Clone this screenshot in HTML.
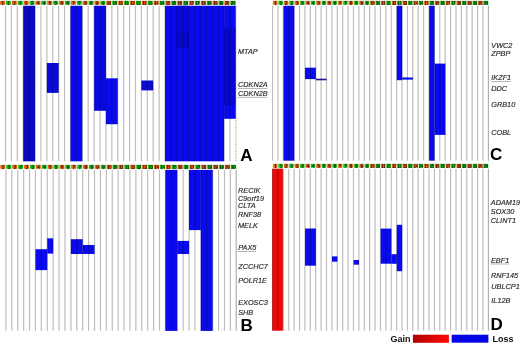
<!DOCTYPE html>
<html><head><meta charset="utf-8"><title>CNV heatmap</title>
<style>
html,body{margin:0;padding:0;background:#fff;}
body{width:520px;height:344px;overflow:hidden;position:relative;}
svg{position:absolute;left:0;top:0;display:block;}
text{font-family:"Liberation Sans",sans-serif;}
.g{font-style:italic;font-size:7.3px;fill:#2e2e2e;stroke:#2e2e2e;stroke-width:0.18px;}
.L{font-weight:bold;font-size:17px;fill:#000;}
.n{font-size:4.5px;font-weight:bold;text-anchor:middle;letter-spacing:-0.3px;}
</style></head><body>
<svg width="520" height="344" viewBox="0 0 520 344">
<rect x="0" y="0" width="520" height="344" fill="#fff"/>
<rect x="23.23" y="5.6" width="11.82" height="155.7" fill="#0808c0"/>
<rect x="46.86" y="63" width="11.81" height="29.9" fill="#0a0adc"/>
<rect x="70.49" y="5.6" width="11.81" height="155.7" fill="#0a0af2"/>
<rect x="94.12" y="5.6" width="11.81" height="105.2" fill="#0808e2"/>
<rect x="105.93" y="78.3" width="11.81" height="45.9" fill="#0a0af2"/>
<rect x="141.38" y="80.5" width="11.81" height="9.9" fill="#0a0acc"/>
<rect x="165.01" y="5.6" width="59.07" height="155.7" fill="#0a0af2"/>
<rect x="224.08" y="5.6" width="11.81" height="113.2" fill="#0a0af2"/>
<rect x="224.08" y="28.7" width="11.81" height="76.3" fill="#0707d2"/>
<rect x="176.82" y="5.6" width="11.81" height="42.4" fill="#0808de"/>
<rect x="176.82" y="33" width="11.81" height="14" fill="#0606cc"/>
<rect x="35.45" y="249.2" width="11.81" height="20.9" fill="#0a0af2"/>
<rect x="47.26" y="238.3" width="5.91" height="15.3" fill="#0a0af2"/>
<rect x="70.89" y="239.2" width="11.81" height="14.8" fill="#0a0af2"/>
<rect x="82.7" y="245" width="11.81" height="9" fill="#0a0af2"/>
<rect x="165.41" y="169.8" width="11.81" height="161.1" fill="#0a0af2"/>
<rect x="177.22" y="240.9" width="11.81" height="13.1" fill="#0a0af2"/>
<rect x="189.04" y="169.8" width="11.81" height="60.3" fill="#0a0af2"/>
<rect x="200.85" y="169.8" width="11.81" height="161.1" fill="#0a0af2"/>
<rect x="283.49" y="5.6" width="10.79" height="155.1" fill="#0a0af2"/>
<rect x="305.07" y="67.7" width="10.79" height="11.4" fill="#0a0af2"/>
<rect x="315.86" y="78.7" width="10.79" height="1.6" fill="#1a1aa0"/>
<rect x="396.78" y="5.6" width="5.39" height="74.6" fill="#0a0af2"/>
<rect x="402.18" y="77.5" width="10.79" height="2.1" fill="#0a0af2"/>
<rect x="429.15" y="5.6" width="5.39" height="155.1" fill="#0a0af2"/>
<rect x="434.55" y="63.6" width="10.79" height="71.3" fill="#0a0af2"/>
<rect x="305.07" y="228.5" width="10.79" height="37.2" fill="#0a0af2"/>
<rect x="332.04" y="256.4" width="5.4" height="5.3" fill="#0a0af2"/>
<rect x="353.62" y="260" width="5.39" height="4.7" fill="#0a0af2"/>
<rect x="380.6" y="228.6" width="10.79" height="35.1" fill="#0a0af2"/>
<rect x="391.39" y="254.2" width="5.39" height="9.6" fill="#0a0af2"/>
<rect x="396.78" y="224.8" width="5.39" height="46.4" fill="#0a0af2"/>
<rect x="272.2" y="168.5" width="10.7" height="162.2" fill="#f00808"/>
<g style="mix-blend-mode:multiply">
<rect x="4.91" y="5.6" width="1.2" height="155.7" fill="#bebebe"/>
<rect x="10.81" y="5.6" width="1.2" height="155.7" fill="#bebebe"/>
<rect x="16.72" y="5.6" width="1.2" height="155.7" fill="#bebebe"/>
<rect x="22.63" y="5.6" width="1.2" height="155.7" fill="#bebebe"/>
<rect x="28.54" y="5.6" width="1.2" height="155.7" fill="#bebebe"/>
<rect x="34.45" y="5.6" width="1.2" height="155.7" fill="#bebebe"/>
<rect x="40.35" y="5.6" width="1.2" height="155.7" fill="#bebebe"/>
<rect x="46.26" y="5.6" width="1.2" height="155.7" fill="#bebebe"/>
<rect x="52.17" y="5.6" width="1.2" height="155.7" fill="#bebebe"/>
<rect x="58.07" y="5.6" width="1.2" height="155.7" fill="#bebebe"/>
<rect x="63.98" y="5.6" width="1.2" height="155.7" fill="#bebebe"/>
<rect x="69.89" y="5.6" width="1.2" height="155.7" fill="#bebebe"/>
<rect x="75.8" y="5.6" width="1.2" height="155.7" fill="#bebebe"/>
<rect x="81.7" y="5.6" width="1.2" height="155.7" fill="#bebebe"/>
<rect x="87.61" y="5.6" width="1.2" height="155.7" fill="#bebebe"/>
<rect x="93.52" y="5.6" width="1.2" height="155.7" fill="#bebebe"/>
<rect x="99.43" y="5.6" width="1.2" height="155.7" fill="#bebebe"/>
<rect x="105.33" y="5.6" width="1.2" height="155.7" fill="#bebebe"/>
<rect x="111.24" y="5.6" width="1.2" height="155.7" fill="#bebebe"/>
<rect x="117.15" y="5.6" width="1.2" height="155.7" fill="#bebebe"/>
<rect x="123.06" y="5.6" width="1.2" height="155.7" fill="#bebebe"/>
<rect x="128.97" y="5.6" width="1.2" height="155.7" fill="#bebebe"/>
<rect x="134.87" y="5.6" width="1.2" height="155.7" fill="#bebebe"/>
<rect x="140.78" y="5.6" width="1.2" height="155.7" fill="#bebebe"/>
<rect x="146.69" y="5.6" width="1.2" height="155.7" fill="#bebebe"/>
<rect x="152.59" y="5.6" width="1.2" height="155.7" fill="#bebebe"/>
<rect x="158.5" y="5.6" width="1.2" height="155.7" fill="#bebebe"/>
<rect x="164.41" y="5.6" width="1.2" height="155.7" fill="#bebebe"/>
<rect x="170.32" y="5.6" width="1.2" height="155.7" fill="#bebebe"/>
<rect x="176.22" y="5.6" width="1.2" height="155.7" fill="#bebebe"/>
<rect x="182.13" y="5.6" width="1.2" height="155.7" fill="#bebebe"/>
<rect x="188.04" y="5.6" width="1.2" height="155.7" fill="#bebebe"/>
<rect x="193.95" y="5.6" width="1.2" height="155.7" fill="#bebebe"/>
<rect x="199.85" y="5.6" width="1.2" height="155.7" fill="#bebebe"/>
<rect x="205.76" y="5.6" width="1.2" height="155.7" fill="#bebebe"/>
<rect x="211.67" y="5.6" width="1.2" height="155.7" fill="#bebebe"/>
<rect x="217.58" y="5.6" width="1.2" height="155.7" fill="#bebebe"/>
<rect x="223.48" y="5.6" width="1.2" height="155.7" fill="#bebebe"/>
<rect x="229.39" y="5.6" width="1.2" height="155.7" fill="#bebebe"/>
<rect x="5.31" y="169.8" width="1.2" height="161.1" fill="#bebebe"/>
<rect x="11.21" y="169.8" width="1.2" height="161.1" fill="#bebebe"/>
<rect x="17.12" y="169.8" width="1.2" height="161.1" fill="#bebebe"/>
<rect x="23.03" y="169.8" width="1.2" height="161.1" fill="#bebebe"/>
<rect x="28.94" y="169.8" width="1.2" height="161.1" fill="#bebebe"/>
<rect x="34.84" y="169.8" width="1.2" height="161.1" fill="#bebebe"/>
<rect x="40.75" y="169.8" width="1.2" height="161.1" fill="#bebebe"/>
<rect x="46.66" y="169.8" width="1.2" height="161.1" fill="#bebebe"/>
<rect x="52.57" y="169.8" width="1.2" height="161.1" fill="#bebebe"/>
<rect x="58.47" y="169.8" width="1.2" height="161.1" fill="#bebebe"/>
<rect x="64.38" y="169.8" width="1.2" height="161.1" fill="#bebebe"/>
<rect x="70.29" y="169.8" width="1.2" height="161.1" fill="#bebebe"/>
<rect x="76.2" y="169.8" width="1.2" height="161.1" fill="#bebebe"/>
<rect x="82.11" y="169.8" width="1.2" height="161.1" fill="#bebebe"/>
<rect x="88.01" y="169.8" width="1.2" height="161.1" fill="#bebebe"/>
<rect x="93.92" y="169.8" width="1.2" height="161.1" fill="#bebebe"/>
<rect x="99.83" y="169.8" width="1.2" height="161.1" fill="#bebebe"/>
<rect x="105.73" y="169.8" width="1.2" height="161.1" fill="#bebebe"/>
<rect x="111.64" y="169.8" width="1.2" height="161.1" fill="#bebebe"/>
<rect x="117.55" y="169.8" width="1.2" height="161.1" fill="#bebebe"/>
<rect x="123.46" y="169.8" width="1.2" height="161.1" fill="#bebebe"/>
<rect x="129.37" y="169.8" width="1.2" height="161.1" fill="#bebebe"/>
<rect x="135.27" y="169.8" width="1.2" height="161.1" fill="#bebebe"/>
<rect x="141.18" y="169.8" width="1.2" height="161.1" fill="#bebebe"/>
<rect x="147.09" y="169.8" width="1.2" height="161.1" fill="#bebebe"/>
<rect x="153" y="169.8" width="1.2" height="161.1" fill="#bebebe"/>
<rect x="158.9" y="169.8" width="1.2" height="161.1" fill="#bebebe"/>
<rect x="164.81" y="169.8" width="1.2" height="161.1" fill="#bebebe"/>
<rect x="170.72" y="169.8" width="1.2" height="161.1" fill="#bebebe"/>
<rect x="176.62" y="169.8" width="1.2" height="161.1" fill="#bebebe"/>
<rect x="182.53" y="169.8" width="1.2" height="161.1" fill="#bebebe"/>
<rect x="188.44" y="169.8" width="1.2" height="161.1" fill="#bebebe"/>
<rect x="194.35" y="169.8" width="1.2" height="161.1" fill="#bebebe"/>
<rect x="200.25" y="169.8" width="1.2" height="161.1" fill="#bebebe"/>
<rect x="206.16" y="169.8" width="1.2" height="161.1" fill="#bebebe"/>
<rect x="212.07" y="169.8" width="1.2" height="161.1" fill="#bebebe"/>
<rect x="217.98" y="169.8" width="1.2" height="161.1" fill="#bebebe"/>
<rect x="223.88" y="169.8" width="1.2" height="161.1" fill="#bebebe"/>
<rect x="229.79" y="169.8" width="1.2" height="161.1" fill="#bebebe"/>
<rect x="271.95" y="5.6" width="1.2" height="155.1" fill="#bebebe"/>
<rect x="277.34" y="5.6" width="1.2" height="155.1" fill="#bebebe"/>
<rect x="282.74" y="5.6" width="1.2" height="155.1" fill="#bebebe"/>
<rect x="288.13" y="5.6" width="1.2" height="155.1" fill="#bebebe"/>
<rect x="293.53" y="5.6" width="1.2" height="155.1" fill="#bebebe"/>
<rect x="298.93" y="5.6" width="1.2" height="155.1" fill="#bebebe"/>
<rect x="304.32" y="5.6" width="1.2" height="155.1" fill="#bebebe"/>
<rect x="309.71" y="5.6" width="1.2" height="155.1" fill="#bebebe"/>
<rect x="315.11" y="5.6" width="1.2" height="155.1" fill="#bebebe"/>
<rect x="320.5" y="5.6" width="1.2" height="155.1" fill="#bebebe"/>
<rect x="325.9" y="5.6" width="1.2" height="155.1" fill="#bebebe"/>
<rect x="331.29" y="5.6" width="1.2" height="155.1" fill="#bebebe"/>
<rect x="336.69" y="5.6" width="1.2" height="155.1" fill="#bebebe"/>
<rect x="342.08" y="5.6" width="1.2" height="155.1" fill="#bebebe"/>
<rect x="347.48" y="5.6" width="1.2" height="155.1" fill="#bebebe"/>
<rect x="352.88" y="5.6" width="1.2" height="155.1" fill="#bebebe"/>
<rect x="358.27" y="5.6" width="1.2" height="155.1" fill="#bebebe"/>
<rect x="363.66" y="5.6" width="1.2" height="155.1" fill="#bebebe"/>
<rect x="369.06" y="5.6" width="1.2" height="155.1" fill="#bebebe"/>
<rect x="374.45" y="5.6" width="1.2" height="155.1" fill="#bebebe"/>
<rect x="379.85" y="5.6" width="1.2" height="155.1" fill="#bebebe"/>
<rect x="385.25" y="5.6" width="1.2" height="155.1" fill="#bebebe"/>
<rect x="390.64" y="5.6" width="1.2" height="155.1" fill="#bebebe"/>
<rect x="396.03" y="5.6" width="1.2" height="155.1" fill="#bebebe"/>
<rect x="401.43" y="5.6" width="1.2" height="155.1" fill="#bebebe"/>
<rect x="406.82" y="5.6" width="1.2" height="155.1" fill="#bebebe"/>
<rect x="412.22" y="5.6" width="1.2" height="155.1" fill="#bebebe"/>
<rect x="417.62" y="5.6" width="1.2" height="155.1" fill="#bebebe"/>
<rect x="423.01" y="5.6" width="1.2" height="155.1" fill="#bebebe"/>
<rect x="428.4" y="5.6" width="1.2" height="155.1" fill="#bebebe"/>
<rect x="433.8" y="5.6" width="1.2" height="155.1" fill="#bebebe"/>
<rect x="439.19" y="5.6" width="1.2" height="155.1" fill="#bebebe"/>
<rect x="444.59" y="5.6" width="1.2" height="155.1" fill="#bebebe"/>
<rect x="449.99" y="5.6" width="1.2" height="155.1" fill="#bebebe"/>
<rect x="455.38" y="5.6" width="1.2" height="155.1" fill="#bebebe"/>
<rect x="460.77" y="5.6" width="1.2" height="155.1" fill="#bebebe"/>
<rect x="466.17" y="5.6" width="1.2" height="155.1" fill="#bebebe"/>
<rect x="471.56" y="5.6" width="1.2" height="155.1" fill="#bebebe"/>
<rect x="476.96" y="5.6" width="1.2" height="155.1" fill="#bebebe"/>
<rect x="482.35" y="5.6" width="1.2" height="155.1" fill="#bebebe"/>
<rect x="271.95" y="168.5" width="1.2" height="162.2" fill="#bebebe"/>
<rect x="277.34" y="168.5" width="1.2" height="162.2" fill="#bebebe"/>
<rect x="282.74" y="168.5" width="1.2" height="162.2" fill="#bebebe"/>
<rect x="288.13" y="168.5" width="1.2" height="162.2" fill="#bebebe"/>
<rect x="293.53" y="168.5" width="1.2" height="162.2" fill="#bebebe"/>
<rect x="298.93" y="168.5" width="1.2" height="162.2" fill="#bebebe"/>
<rect x="304.32" y="168.5" width="1.2" height="162.2" fill="#bebebe"/>
<rect x="309.71" y="168.5" width="1.2" height="162.2" fill="#bebebe"/>
<rect x="315.11" y="168.5" width="1.2" height="162.2" fill="#bebebe"/>
<rect x="320.5" y="168.5" width="1.2" height="162.2" fill="#bebebe"/>
<rect x="325.9" y="168.5" width="1.2" height="162.2" fill="#bebebe"/>
<rect x="331.29" y="168.5" width="1.2" height="162.2" fill="#bebebe"/>
<rect x="336.69" y="168.5" width="1.2" height="162.2" fill="#bebebe"/>
<rect x="342.08" y="168.5" width="1.2" height="162.2" fill="#bebebe"/>
<rect x="347.48" y="168.5" width="1.2" height="162.2" fill="#bebebe"/>
<rect x="352.88" y="168.5" width="1.2" height="162.2" fill="#bebebe"/>
<rect x="358.27" y="168.5" width="1.2" height="162.2" fill="#bebebe"/>
<rect x="363.66" y="168.5" width="1.2" height="162.2" fill="#bebebe"/>
<rect x="369.06" y="168.5" width="1.2" height="162.2" fill="#bebebe"/>
<rect x="374.45" y="168.5" width="1.2" height="162.2" fill="#bebebe"/>
<rect x="379.85" y="168.5" width="1.2" height="162.2" fill="#bebebe"/>
<rect x="385.25" y="168.5" width="1.2" height="162.2" fill="#bebebe"/>
<rect x="390.64" y="168.5" width="1.2" height="162.2" fill="#bebebe"/>
<rect x="396.03" y="168.5" width="1.2" height="162.2" fill="#bebebe"/>
<rect x="401.43" y="168.5" width="1.2" height="162.2" fill="#bebebe"/>
<rect x="406.82" y="168.5" width="1.2" height="162.2" fill="#bebebe"/>
<rect x="412.22" y="168.5" width="1.2" height="162.2" fill="#bebebe"/>
<rect x="417.62" y="168.5" width="1.2" height="162.2" fill="#bebebe"/>
<rect x="423.01" y="168.5" width="1.2" height="162.2" fill="#bebebe"/>
<rect x="428.4" y="168.5" width="1.2" height="162.2" fill="#bebebe"/>
<rect x="433.8" y="168.5" width="1.2" height="162.2" fill="#bebebe"/>
<rect x="439.19" y="168.5" width="1.2" height="162.2" fill="#bebebe"/>
<rect x="444.59" y="168.5" width="1.2" height="162.2" fill="#bebebe"/>
<rect x="449.99" y="168.5" width="1.2" height="162.2" fill="#bebebe"/>
<rect x="455.38" y="168.5" width="1.2" height="162.2" fill="#bebebe"/>
<rect x="460.77" y="168.5" width="1.2" height="162.2" fill="#bebebe"/>
<rect x="466.17" y="168.5" width="1.2" height="162.2" fill="#bebebe"/>
<rect x="471.56" y="168.5" width="1.2" height="162.2" fill="#bebebe"/>
<rect x="476.96" y="168.5" width="1.2" height="162.2" fill="#bebebe"/>
<rect x="482.35" y="168.5" width="1.2" height="162.2" fill="#bebebe"/>
</g>
<line x1="235.9" y1="5.6" x2="235.9" y2="161.3" stroke="#909090" stroke-width="0.9" stroke-dasharray="1.2 1"/>
<rect x="235.6" y="169.8" width="1.2" height="161.1" fill="#b0b0b0"/>
<rect x="487.8" y="5.6" width="1.2" height="155.1" fill="#b0b0b0"/>
<rect x="487.8" y="168.5" width="1.2" height="162.2" fill="#b0b0b0"/>
<rect x="-0.4" y="0.6" width="5.91" height="4.4" fill="#dc620c" stroke="#fff" stroke-opacity="0.6" stroke-width="1.1"/>
<text class="n" x="2.55" y="4.55" fill="#400800">1</text>
<rect x="5.51" y="0.6" width="5.91" height="4.4" fill="#14b414" stroke="#fff" stroke-opacity="0.6" stroke-width="1.1"/>
<text class="n" x="8.46" y="4.55" fill="#003000">1</text>
<rect x="11.41" y="0.6" width="5.91" height="4.4" fill="#dc620c" stroke="#fff" stroke-opacity="0.6" stroke-width="1.1"/>
<text class="n" x="14.37" y="4.55" fill="#400800">2</text>
<rect x="17.32" y="0.6" width="5.91" height="4.4" fill="#14b414" stroke="#fff" stroke-opacity="0.6" stroke-width="1.1"/>
<text class="n" x="20.28" y="4.55" fill="#003000">2</text>
<rect x="23.23" y="0.6" width="5.91" height="4.4" fill="#dc620c" stroke="#fff" stroke-opacity="0.6" stroke-width="1.1"/>
<text class="n" x="26.18" y="4.55" fill="#400800">3</text>
<rect x="29.14" y="0.6" width="5.91" height="4.4" fill="#14b414" stroke="#fff" stroke-opacity="0.6" stroke-width="1.1"/>
<text class="n" x="32.09" y="4.55" fill="#003000">3</text>
<rect x="35.05" y="0.6" width="5.91" height="4.4" fill="#dc620c" stroke="#fff" stroke-opacity="0.6" stroke-width="1.1"/>
<text class="n" x="38" y="4.55" fill="#400800">4</text>
<rect x="40.95" y="0.6" width="5.91" height="4.4" fill="#14b414" stroke="#fff" stroke-opacity="0.6" stroke-width="1.1"/>
<text class="n" x="43.91" y="4.55" fill="#003000">4</text>
<rect x="46.86" y="0.6" width="5.91" height="4.4" fill="#dc620c" stroke="#fff" stroke-opacity="0.6" stroke-width="1.1"/>
<text class="n" x="49.81" y="4.55" fill="#400800">5</text>
<rect x="52.77" y="0.6" width="5.91" height="4.4" fill="#14b414" stroke="#fff" stroke-opacity="0.6" stroke-width="1.1"/>
<text class="n" x="55.72" y="4.55" fill="#003000">5</text>
<rect x="58.67" y="0.6" width="5.91" height="4.4" fill="#dc620c" stroke="#fff" stroke-opacity="0.6" stroke-width="1.1"/>
<text class="n" x="61.63" y="4.55" fill="#400800">6</text>
<rect x="64.58" y="0.6" width="5.91" height="4.4" fill="#14b414" stroke="#fff" stroke-opacity="0.6" stroke-width="1.1"/>
<text class="n" x="67.54" y="4.55" fill="#003000">6</text>
<rect x="70.49" y="0.6" width="5.91" height="4.4" fill="#dc620c" stroke="#fff" stroke-opacity="0.6" stroke-width="1.1"/>
<text class="n" x="73.44" y="4.55" fill="#400800">7</text>
<rect x="76.4" y="0.6" width="5.91" height="4.4" fill="#14b414" stroke="#fff" stroke-opacity="0.6" stroke-width="1.1"/>
<text class="n" x="79.35" y="4.55" fill="#003000">7</text>
<rect x="82.3" y="0.6" width="5.91" height="4.4" fill="#dc620c" stroke="#fff" stroke-opacity="0.6" stroke-width="1.1"/>
<text class="n" x="85.26" y="4.55" fill="#400800">8</text>
<rect x="88.21" y="0.6" width="5.91" height="4.4" fill="#14b414" stroke="#fff" stroke-opacity="0.6" stroke-width="1.1"/>
<text class="n" x="91.17" y="4.55" fill="#003000">8</text>
<rect x="94.12" y="0.6" width="5.91" height="4.4" fill="#dc620c" stroke="#fff" stroke-opacity="0.6" stroke-width="1.1"/>
<text class="n" x="97.07" y="4.55" fill="#400800">9</text>
<rect x="100.03" y="0.6" width="5.91" height="4.4" fill="#14b414" stroke="#fff" stroke-opacity="0.6" stroke-width="1.1"/>
<text class="n" x="102.98" y="4.55" fill="#003000">9</text>
<rect x="105.93" y="0.6" width="5.91" height="4.4" fill="#dc620c" stroke="#fff" stroke-opacity="0.6" stroke-width="1.1"/>
<text class="n" x="108.89" y="4.55" fill="#400800">10</text>
<rect x="111.84" y="0.6" width="5.91" height="4.4" fill="#14b414" stroke="#fff" stroke-opacity="0.6" stroke-width="1.1"/>
<text class="n" x="114.8" y="4.55" fill="#003000">10</text>
<rect x="117.75" y="0.6" width="5.91" height="4.4" fill="#dc620c" stroke="#fff" stroke-opacity="0.6" stroke-width="1.1"/>
<text class="n" x="120.7" y="4.55" fill="#400800">11</text>
<rect x="123.66" y="0.6" width="5.91" height="4.4" fill="#14b414" stroke="#fff" stroke-opacity="0.6" stroke-width="1.1"/>
<text class="n" x="126.61" y="4.55" fill="#003000">11</text>
<rect x="129.56" y="0.6" width="5.91" height="4.4" fill="#dc620c" stroke="#fff" stroke-opacity="0.6" stroke-width="1.1"/>
<text class="n" x="132.52" y="4.55" fill="#400800">12</text>
<rect x="135.47" y="0.6" width="5.91" height="4.4" fill="#14b414" stroke="#fff" stroke-opacity="0.6" stroke-width="1.1"/>
<text class="n" x="138.43" y="4.55" fill="#003000">12</text>
<rect x="141.38" y="0.6" width="5.91" height="4.4" fill="#dc620c" stroke="#fff" stroke-opacity="0.6" stroke-width="1.1"/>
<text class="n" x="144.33" y="4.55" fill="#400800">13</text>
<rect x="147.29" y="0.6" width="5.91" height="4.4" fill="#14b414" stroke="#fff" stroke-opacity="0.6" stroke-width="1.1"/>
<text class="n" x="150.24" y="4.55" fill="#003000">13</text>
<rect x="153.19" y="0.6" width="5.91" height="4.4" fill="#dc620c" stroke="#fff" stroke-opacity="0.6" stroke-width="1.1"/>
<text class="n" x="156.15" y="4.55" fill="#400800">14</text>
<rect x="159.1" y="0.6" width="5.91" height="4.4" fill="#14b414" stroke="#fff" stroke-opacity="0.6" stroke-width="1.1"/>
<text class="n" x="162.06" y="4.55" fill="#003000">14</text>
<rect x="165.01" y="0.6" width="5.91" height="4.4" fill="#dc620c" stroke="#fff" stroke-opacity="0.6" stroke-width="1.1"/>
<text class="n" x="167.96" y="4.55" fill="#400800">15</text>
<rect x="170.92" y="0.6" width="5.91" height="4.4" fill="#14b414" stroke="#fff" stroke-opacity="0.6" stroke-width="1.1"/>
<text class="n" x="173.87" y="4.55" fill="#003000">15</text>
<rect x="176.82" y="0.6" width="5.91" height="4.4" fill="#dc620c" stroke="#fff" stroke-opacity="0.6" stroke-width="1.1"/>
<text class="n" x="179.78" y="4.55" fill="#400800">16</text>
<rect x="182.73" y="0.6" width="5.91" height="4.4" fill="#14b414" stroke="#fff" stroke-opacity="0.6" stroke-width="1.1"/>
<text class="n" x="185.69" y="4.55" fill="#003000">16</text>
<rect x="188.64" y="0.6" width="5.91" height="4.4" fill="#dc620c" stroke="#fff" stroke-opacity="0.6" stroke-width="1.1"/>
<text class="n" x="191.59" y="4.55" fill="#400800">17</text>
<rect x="194.55" y="0.6" width="5.91" height="4.4" fill="#14b414" stroke="#fff" stroke-opacity="0.6" stroke-width="1.1"/>
<text class="n" x="197.5" y="4.55" fill="#003000">17</text>
<rect x="200.45" y="0.6" width="5.91" height="4.4" fill="#dc620c" stroke="#fff" stroke-opacity="0.6" stroke-width="1.1"/>
<text class="n" x="203.41" y="4.55" fill="#400800">18</text>
<rect x="206.36" y="0.6" width="5.91" height="4.4" fill="#14b414" stroke="#fff" stroke-opacity="0.6" stroke-width="1.1"/>
<text class="n" x="209.32" y="4.55" fill="#003000">18</text>
<rect x="212.27" y="0.6" width="5.91" height="4.4" fill="#dc620c" stroke="#fff" stroke-opacity="0.6" stroke-width="1.1"/>
<text class="n" x="215.22" y="4.55" fill="#400800">19</text>
<rect x="218.18" y="0.6" width="5.91" height="4.4" fill="#14b414" stroke="#fff" stroke-opacity="0.6" stroke-width="1.1"/>
<text class="n" x="221.13" y="4.55" fill="#003000">19</text>
<rect x="224.08" y="0.6" width="5.91" height="4.4" fill="#dc620c" stroke="#fff" stroke-opacity="0.6" stroke-width="1.1"/>
<text class="n" x="227.04" y="4.55" fill="#400800">20</text>
<rect x="229.99" y="0.6" width="5.91" height="4.4" fill="#14b414" stroke="#fff" stroke-opacity="0.6" stroke-width="1.1"/>
<text class="n" x="232.95" y="4.55" fill="#003000">20</text>
<rect x="0" y="164.6" width="5.91" height="4.5" fill="#dc620c" stroke="#fff" stroke-opacity="0.6" stroke-width="1.1"/>
<text class="n" x="2.95" y="168.65" fill="#400800">1</text>
<rect x="5.91" y="164.6" width="5.91" height="4.5" fill="#14b414" stroke="#fff" stroke-opacity="0.6" stroke-width="1.1"/>
<text class="n" x="8.86" y="168.65" fill="#003000">1</text>
<rect x="11.81" y="164.6" width="5.91" height="4.5" fill="#dc620c" stroke="#fff" stroke-opacity="0.6" stroke-width="1.1"/>
<text class="n" x="14.77" y="168.65" fill="#400800">2</text>
<rect x="17.72" y="164.6" width="5.91" height="4.5" fill="#14b414" stroke="#fff" stroke-opacity="0.6" stroke-width="1.1"/>
<text class="n" x="20.68" y="168.65" fill="#003000">2</text>
<rect x="23.63" y="164.6" width="5.91" height="4.5" fill="#dc620c" stroke="#fff" stroke-opacity="0.6" stroke-width="1.1"/>
<text class="n" x="26.58" y="168.65" fill="#400800">3</text>
<rect x="29.54" y="164.6" width="5.91" height="4.5" fill="#14b414" stroke="#fff" stroke-opacity="0.6" stroke-width="1.1"/>
<text class="n" x="32.49" y="168.65" fill="#003000">3</text>
<rect x="35.45" y="164.6" width="5.91" height="4.5" fill="#dc620c" stroke="#fff" stroke-opacity="0.6" stroke-width="1.1"/>
<text class="n" x="38.4" y="168.65" fill="#400800">4</text>
<rect x="41.35" y="164.6" width="5.91" height="4.5" fill="#14b414" stroke="#fff" stroke-opacity="0.6" stroke-width="1.1"/>
<text class="n" x="44.31" y="168.65" fill="#003000">4</text>
<rect x="47.26" y="164.6" width="5.91" height="4.5" fill="#dc620c" stroke="#fff" stroke-opacity="0.6" stroke-width="1.1"/>
<text class="n" x="50.21" y="168.65" fill="#400800">5</text>
<rect x="53.17" y="164.6" width="5.91" height="4.5" fill="#14b414" stroke="#fff" stroke-opacity="0.6" stroke-width="1.1"/>
<text class="n" x="56.12" y="168.65" fill="#003000">5</text>
<rect x="59.07" y="164.6" width="5.91" height="4.5" fill="#dc620c" stroke="#fff" stroke-opacity="0.6" stroke-width="1.1"/>
<text class="n" x="62.03" y="168.65" fill="#400800">6</text>
<rect x="64.98" y="164.6" width="5.91" height="4.5" fill="#14b414" stroke="#fff" stroke-opacity="0.6" stroke-width="1.1"/>
<text class="n" x="67.94" y="168.65" fill="#003000">6</text>
<rect x="70.89" y="164.6" width="5.91" height="4.5" fill="#dc620c" stroke="#fff" stroke-opacity="0.6" stroke-width="1.1"/>
<text class="n" x="73.84" y="168.65" fill="#400800">7</text>
<rect x="76.8" y="164.6" width="5.91" height="4.5" fill="#14b414" stroke="#fff" stroke-opacity="0.6" stroke-width="1.1"/>
<text class="n" x="79.75" y="168.65" fill="#003000">7</text>
<rect x="82.7" y="164.6" width="5.91" height="4.5" fill="#dc620c" stroke="#fff" stroke-opacity="0.6" stroke-width="1.1"/>
<text class="n" x="85.66" y="168.65" fill="#400800">8</text>
<rect x="88.61" y="164.6" width="5.91" height="4.5" fill="#14b414" stroke="#fff" stroke-opacity="0.6" stroke-width="1.1"/>
<text class="n" x="91.57" y="168.65" fill="#003000">8</text>
<rect x="94.52" y="164.6" width="5.91" height="4.5" fill="#dc620c" stroke="#fff" stroke-opacity="0.6" stroke-width="1.1"/>
<text class="n" x="97.47" y="168.65" fill="#400800">9</text>
<rect x="100.43" y="164.6" width="5.91" height="4.5" fill="#14b414" stroke="#fff" stroke-opacity="0.6" stroke-width="1.1"/>
<text class="n" x="103.38" y="168.65" fill="#003000">9</text>
<rect x="106.33" y="164.6" width="5.91" height="4.5" fill="#dc620c" stroke="#fff" stroke-opacity="0.6" stroke-width="1.1"/>
<text class="n" x="109.29" y="168.65" fill="#400800">10</text>
<rect x="112.24" y="164.6" width="5.91" height="4.5" fill="#14b414" stroke="#fff" stroke-opacity="0.6" stroke-width="1.1"/>
<text class="n" x="115.2" y="168.65" fill="#003000">10</text>
<rect x="118.15" y="164.6" width="5.91" height="4.5" fill="#dc620c" stroke="#fff" stroke-opacity="0.6" stroke-width="1.1"/>
<text class="n" x="121.1" y="168.65" fill="#400800">11</text>
<rect x="124.06" y="164.6" width="5.91" height="4.5" fill="#14b414" stroke="#fff" stroke-opacity="0.6" stroke-width="1.1"/>
<text class="n" x="127.01" y="168.65" fill="#003000">11</text>
<rect x="129.97" y="164.6" width="5.91" height="4.5" fill="#dc620c" stroke="#fff" stroke-opacity="0.6" stroke-width="1.1"/>
<text class="n" x="132.92" y="168.65" fill="#400800">12</text>
<rect x="135.87" y="164.6" width="5.91" height="4.5" fill="#14b414" stroke="#fff" stroke-opacity="0.6" stroke-width="1.1"/>
<text class="n" x="138.83" y="168.65" fill="#003000">12</text>
<rect x="141.78" y="164.6" width="5.91" height="4.5" fill="#dc620c" stroke="#fff" stroke-opacity="0.6" stroke-width="1.1"/>
<text class="n" x="144.73" y="168.65" fill="#400800">13</text>
<rect x="147.69" y="164.6" width="5.91" height="4.5" fill="#14b414" stroke="#fff" stroke-opacity="0.6" stroke-width="1.1"/>
<text class="n" x="150.64" y="168.65" fill="#003000">13</text>
<rect x="153.59" y="164.6" width="5.91" height="4.5" fill="#dc620c" stroke="#fff" stroke-opacity="0.6" stroke-width="1.1"/>
<text class="n" x="156.55" y="168.65" fill="#400800">14</text>
<rect x="159.5" y="164.6" width="5.91" height="4.5" fill="#14b414" stroke="#fff" stroke-opacity="0.6" stroke-width="1.1"/>
<text class="n" x="162.46" y="168.65" fill="#003000">14</text>
<rect x="165.41" y="164.6" width="5.91" height="4.5" fill="#dc620c" stroke="#fff" stroke-opacity="0.6" stroke-width="1.1"/>
<text class="n" x="168.36" y="168.65" fill="#400800">15</text>
<rect x="171.32" y="164.6" width="5.91" height="4.5" fill="#14b414" stroke="#fff" stroke-opacity="0.6" stroke-width="1.1"/>
<text class="n" x="174.27" y="168.65" fill="#003000">15</text>
<rect x="177.22" y="164.6" width="5.91" height="4.5" fill="#dc620c" stroke="#fff" stroke-opacity="0.6" stroke-width="1.1"/>
<text class="n" x="180.18" y="168.65" fill="#400800">16</text>
<rect x="183.13" y="164.6" width="5.91" height="4.5" fill="#14b414" stroke="#fff" stroke-opacity="0.6" stroke-width="1.1"/>
<text class="n" x="186.09" y="168.65" fill="#003000">16</text>
<rect x="189.04" y="164.6" width="5.91" height="4.5" fill="#dc620c" stroke="#fff" stroke-opacity="0.6" stroke-width="1.1"/>
<text class="n" x="191.99" y="168.65" fill="#400800">17</text>
<rect x="194.95" y="164.6" width="5.91" height="4.5" fill="#14b414" stroke="#fff" stroke-opacity="0.6" stroke-width="1.1"/>
<text class="n" x="197.9" y="168.65" fill="#003000">17</text>
<rect x="200.85" y="164.6" width="5.91" height="4.5" fill="#dc620c" stroke="#fff" stroke-opacity="0.6" stroke-width="1.1"/>
<text class="n" x="203.81" y="168.65" fill="#400800">18</text>
<rect x="206.76" y="164.6" width="5.91" height="4.5" fill="#14b414" stroke="#fff" stroke-opacity="0.6" stroke-width="1.1"/>
<text class="n" x="209.72" y="168.65" fill="#003000">18</text>
<rect x="212.67" y="164.6" width="5.91" height="4.5" fill="#dc620c" stroke="#fff" stroke-opacity="0.6" stroke-width="1.1"/>
<text class="n" x="215.62" y="168.65" fill="#400800">19</text>
<rect x="218.58" y="164.6" width="5.91" height="4.5" fill="#14b414" stroke="#fff" stroke-opacity="0.6" stroke-width="1.1"/>
<text class="n" x="221.53" y="168.65" fill="#003000">19</text>
<rect x="224.48" y="164.6" width="5.91" height="4.5" fill="#dc620c" stroke="#fff" stroke-opacity="0.6" stroke-width="1.1"/>
<text class="n" x="227.44" y="168.65" fill="#400800">20</text>
<rect x="230.39" y="164.6" width="5.91" height="4.5" fill="#14b414" stroke="#fff" stroke-opacity="0.6" stroke-width="1.1"/>
<text class="n" x="233.35" y="168.65" fill="#003000">20</text>
<rect x="272.7" y="0.6" width="5.39" height="4.4" fill="#dc620c" stroke="#fff" stroke-opacity="0.6" stroke-width="1.1"/>
<text class="n" x="275.4" y="4.55" fill="#400800">1</text>
<rect x="278.09" y="0.6" width="5.39" height="4.4" fill="#14b414" stroke="#fff" stroke-opacity="0.6" stroke-width="1.1"/>
<text class="n" x="280.79" y="4.55" fill="#003000">1</text>
<rect x="283.49" y="0.6" width="5.39" height="4.4" fill="#dc620c" stroke="#fff" stroke-opacity="0.6" stroke-width="1.1"/>
<text class="n" x="286.19" y="4.55" fill="#400800">2</text>
<rect x="288.88" y="0.6" width="5.39" height="4.4" fill="#14b414" stroke="#fff" stroke-opacity="0.6" stroke-width="1.1"/>
<text class="n" x="291.58" y="4.55" fill="#003000">2</text>
<rect x="294.28" y="0.6" width="5.39" height="4.4" fill="#dc620c" stroke="#fff" stroke-opacity="0.6" stroke-width="1.1"/>
<text class="n" x="296.98" y="4.55" fill="#400800">3</text>
<rect x="299.68" y="0.6" width="5.39" height="4.4" fill="#14b414" stroke="#fff" stroke-opacity="0.6" stroke-width="1.1"/>
<text class="n" x="302.37" y="4.55" fill="#003000">3</text>
<rect x="305.07" y="0.6" width="5.39" height="4.4" fill="#dc620c" stroke="#fff" stroke-opacity="0.6" stroke-width="1.1"/>
<text class="n" x="307.77" y="4.55" fill="#400800">4</text>
<rect x="310.46" y="0.6" width="5.39" height="4.4" fill="#14b414" stroke="#fff" stroke-opacity="0.6" stroke-width="1.1"/>
<text class="n" x="313.16" y="4.55" fill="#003000">4</text>
<rect x="315.86" y="0.6" width="5.39" height="4.4" fill="#dc620c" stroke="#fff" stroke-opacity="0.6" stroke-width="1.1"/>
<text class="n" x="318.56" y="4.55" fill="#400800">5</text>
<rect x="321.25" y="0.6" width="5.39" height="4.4" fill="#14b414" stroke="#fff" stroke-opacity="0.6" stroke-width="1.1"/>
<text class="n" x="323.95" y="4.55" fill="#003000">5</text>
<rect x="326.65" y="0.6" width="5.39" height="4.4" fill="#dc620c" stroke="#fff" stroke-opacity="0.6" stroke-width="1.1"/>
<text class="n" x="329.35" y="4.55" fill="#400800">6</text>
<rect x="332.04" y="0.6" width="5.39" height="4.4" fill="#14b414" stroke="#fff" stroke-opacity="0.6" stroke-width="1.1"/>
<text class="n" x="334.74" y="4.55" fill="#003000">6</text>
<rect x="337.44" y="0.6" width="5.39" height="4.4" fill="#dc620c" stroke="#fff" stroke-opacity="0.6" stroke-width="1.1"/>
<text class="n" x="340.14" y="4.55" fill="#400800">7</text>
<rect x="342.83" y="0.6" width="5.39" height="4.4" fill="#14b414" stroke="#fff" stroke-opacity="0.6" stroke-width="1.1"/>
<text class="n" x="345.53" y="4.55" fill="#003000">7</text>
<rect x="348.23" y="0.6" width="5.39" height="4.4" fill="#dc620c" stroke="#fff" stroke-opacity="0.6" stroke-width="1.1"/>
<text class="n" x="350.93" y="4.55" fill="#400800">8</text>
<rect x="353.62" y="0.6" width="5.39" height="4.4" fill="#14b414" stroke="#fff" stroke-opacity="0.6" stroke-width="1.1"/>
<text class="n" x="356.32" y="4.55" fill="#003000">8</text>
<rect x="359.02" y="0.6" width="5.39" height="4.4" fill="#dc620c" stroke="#fff" stroke-opacity="0.6" stroke-width="1.1"/>
<text class="n" x="361.72" y="4.55" fill="#400800">9</text>
<rect x="364.41" y="0.6" width="5.39" height="4.4" fill="#14b414" stroke="#fff" stroke-opacity="0.6" stroke-width="1.1"/>
<text class="n" x="367.11" y="4.55" fill="#003000">9</text>
<rect x="369.81" y="0.6" width="5.39" height="4.4" fill="#dc620c" stroke="#fff" stroke-opacity="0.6" stroke-width="1.1"/>
<text class="n" x="372.51" y="4.55" fill="#400800">10</text>
<rect x="375.2" y="0.6" width="5.39" height="4.4" fill="#14b414" stroke="#fff" stroke-opacity="0.6" stroke-width="1.1"/>
<text class="n" x="377.9" y="4.55" fill="#003000">10</text>
<rect x="380.6" y="0.6" width="5.39" height="4.4" fill="#dc620c" stroke="#fff" stroke-opacity="0.6" stroke-width="1.1"/>
<text class="n" x="383.3" y="4.55" fill="#400800">11</text>
<rect x="386" y="0.6" width="5.39" height="4.4" fill="#14b414" stroke="#fff" stroke-opacity="0.6" stroke-width="1.1"/>
<text class="n" x="388.69" y="4.55" fill="#003000">11</text>
<rect x="391.39" y="0.6" width="5.39" height="4.4" fill="#dc620c" stroke="#fff" stroke-opacity="0.6" stroke-width="1.1"/>
<text class="n" x="394.09" y="4.55" fill="#400800">12</text>
<rect x="396.78" y="0.6" width="5.39" height="4.4" fill="#14b414" stroke="#fff" stroke-opacity="0.6" stroke-width="1.1"/>
<text class="n" x="399.48" y="4.55" fill="#003000">12</text>
<rect x="402.18" y="0.6" width="5.39" height="4.4" fill="#dc620c" stroke="#fff" stroke-opacity="0.6" stroke-width="1.1"/>
<text class="n" x="404.88" y="4.55" fill="#400800">13</text>
<rect x="407.57" y="0.6" width="5.39" height="4.4" fill="#14b414" stroke="#fff" stroke-opacity="0.6" stroke-width="1.1"/>
<text class="n" x="410.27" y="4.55" fill="#003000">13</text>
<rect x="412.97" y="0.6" width="5.39" height="4.4" fill="#dc620c" stroke="#fff" stroke-opacity="0.6" stroke-width="1.1"/>
<text class="n" x="415.67" y="4.55" fill="#400800">14</text>
<rect x="418.37" y="0.6" width="5.39" height="4.4" fill="#14b414" stroke="#fff" stroke-opacity="0.6" stroke-width="1.1"/>
<text class="n" x="421.06" y="4.55" fill="#003000">14</text>
<rect x="423.76" y="0.6" width="5.39" height="4.4" fill="#dc620c" stroke="#fff" stroke-opacity="0.6" stroke-width="1.1"/>
<text class="n" x="426.46" y="4.55" fill="#400800">15</text>
<rect x="429.15" y="0.6" width="5.39" height="4.4" fill="#14b414" stroke="#fff" stroke-opacity="0.6" stroke-width="1.1"/>
<text class="n" x="431.85" y="4.55" fill="#003000">15</text>
<rect x="434.55" y="0.6" width="5.39" height="4.4" fill="#dc620c" stroke="#fff" stroke-opacity="0.6" stroke-width="1.1"/>
<text class="n" x="437.25" y="4.55" fill="#400800">16</text>
<rect x="439.94" y="0.6" width="5.39" height="4.4" fill="#14b414" stroke="#fff" stroke-opacity="0.6" stroke-width="1.1"/>
<text class="n" x="442.64" y="4.55" fill="#003000">16</text>
<rect x="445.34" y="0.6" width="5.39" height="4.4" fill="#dc620c" stroke="#fff" stroke-opacity="0.6" stroke-width="1.1"/>
<text class="n" x="448.04" y="4.55" fill="#400800">17</text>
<rect x="450.74" y="0.6" width="5.39" height="4.4" fill="#14b414" stroke="#fff" stroke-opacity="0.6" stroke-width="1.1"/>
<text class="n" x="453.43" y="4.55" fill="#003000">17</text>
<rect x="456.13" y="0.6" width="5.39" height="4.4" fill="#dc620c" stroke="#fff" stroke-opacity="0.6" stroke-width="1.1"/>
<text class="n" x="458.83" y="4.55" fill="#400800">18</text>
<rect x="461.52" y="0.6" width="5.39" height="4.4" fill="#14b414" stroke="#fff" stroke-opacity="0.6" stroke-width="1.1"/>
<text class="n" x="464.22" y="4.55" fill="#003000">18</text>
<rect x="466.92" y="0.6" width="5.39" height="4.4" fill="#dc620c" stroke="#fff" stroke-opacity="0.6" stroke-width="1.1"/>
<text class="n" x="469.62" y="4.55" fill="#400800">19</text>
<rect x="472.31" y="0.6" width="5.39" height="4.4" fill="#14b414" stroke="#fff" stroke-opacity="0.6" stroke-width="1.1"/>
<text class="n" x="475.01" y="4.55" fill="#003000">19</text>
<rect x="477.71" y="0.6" width="5.39" height="4.4" fill="#dc620c" stroke="#fff" stroke-opacity="0.6" stroke-width="1.1"/>
<text class="n" x="480.41" y="4.55" fill="#400800">20</text>
<rect x="483.1" y="0.6" width="5.39" height="4.4" fill="#14b414" stroke="#fff" stroke-opacity="0.6" stroke-width="1.1"/>
<text class="n" x="485.8" y="4.55" fill="#003000">20</text>
<rect x="272.7" y="163.6" width="5.39" height="4.4" fill="#dc620c" stroke="#fff" stroke-opacity="0.6" stroke-width="1.1"/>
<text class="n" x="275.4" y="167.55" fill="#400800">1</text>
<rect x="278.09" y="163.6" width="5.39" height="4.4" fill="#14b414" stroke="#fff" stroke-opacity="0.6" stroke-width="1.1"/>
<text class="n" x="280.79" y="167.55" fill="#003000">1</text>
<rect x="283.49" y="163.6" width="5.39" height="4.4" fill="#dc620c" stroke="#fff" stroke-opacity="0.6" stroke-width="1.1"/>
<text class="n" x="286.19" y="167.55" fill="#400800">2</text>
<rect x="288.88" y="163.6" width="5.39" height="4.4" fill="#14b414" stroke="#fff" stroke-opacity="0.6" stroke-width="1.1"/>
<text class="n" x="291.58" y="167.55" fill="#003000">2</text>
<rect x="294.28" y="163.6" width="5.39" height="4.4" fill="#dc620c" stroke="#fff" stroke-opacity="0.6" stroke-width="1.1"/>
<text class="n" x="296.98" y="167.55" fill="#400800">3</text>
<rect x="299.68" y="163.6" width="5.39" height="4.4" fill="#14b414" stroke="#fff" stroke-opacity="0.6" stroke-width="1.1"/>
<text class="n" x="302.37" y="167.55" fill="#003000">3</text>
<rect x="305.07" y="163.6" width="5.39" height="4.4" fill="#dc620c" stroke="#fff" stroke-opacity="0.6" stroke-width="1.1"/>
<text class="n" x="307.77" y="167.55" fill="#400800">4</text>
<rect x="310.46" y="163.6" width="5.39" height="4.4" fill="#14b414" stroke="#fff" stroke-opacity="0.6" stroke-width="1.1"/>
<text class="n" x="313.16" y="167.55" fill="#003000">4</text>
<rect x="315.86" y="163.6" width="5.39" height="4.4" fill="#dc620c" stroke="#fff" stroke-opacity="0.6" stroke-width="1.1"/>
<text class="n" x="318.56" y="167.55" fill="#400800">5</text>
<rect x="321.25" y="163.6" width="5.39" height="4.4" fill="#14b414" stroke="#fff" stroke-opacity="0.6" stroke-width="1.1"/>
<text class="n" x="323.95" y="167.55" fill="#003000">5</text>
<rect x="326.65" y="163.6" width="5.39" height="4.4" fill="#dc620c" stroke="#fff" stroke-opacity="0.6" stroke-width="1.1"/>
<text class="n" x="329.35" y="167.55" fill="#400800">6</text>
<rect x="332.04" y="163.6" width="5.39" height="4.4" fill="#14b414" stroke="#fff" stroke-opacity="0.6" stroke-width="1.1"/>
<text class="n" x="334.74" y="167.55" fill="#003000">6</text>
<rect x="337.44" y="163.6" width="5.39" height="4.4" fill="#dc620c" stroke="#fff" stroke-opacity="0.6" stroke-width="1.1"/>
<text class="n" x="340.14" y="167.55" fill="#400800">7</text>
<rect x="342.83" y="163.6" width="5.39" height="4.4" fill="#14b414" stroke="#fff" stroke-opacity="0.6" stroke-width="1.1"/>
<text class="n" x="345.53" y="167.55" fill="#003000">7</text>
<rect x="348.23" y="163.6" width="5.39" height="4.4" fill="#dc620c" stroke="#fff" stroke-opacity="0.6" stroke-width="1.1"/>
<text class="n" x="350.93" y="167.55" fill="#400800">8</text>
<rect x="353.62" y="163.6" width="5.39" height="4.4" fill="#14b414" stroke="#fff" stroke-opacity="0.6" stroke-width="1.1"/>
<text class="n" x="356.32" y="167.55" fill="#003000">8</text>
<rect x="359.02" y="163.6" width="5.39" height="4.4" fill="#dc620c" stroke="#fff" stroke-opacity="0.6" stroke-width="1.1"/>
<text class="n" x="361.72" y="167.55" fill="#400800">9</text>
<rect x="364.41" y="163.6" width="5.39" height="4.4" fill="#14b414" stroke="#fff" stroke-opacity="0.6" stroke-width="1.1"/>
<text class="n" x="367.11" y="167.55" fill="#003000">9</text>
<rect x="369.81" y="163.6" width="5.39" height="4.4" fill="#dc620c" stroke="#fff" stroke-opacity="0.6" stroke-width="1.1"/>
<text class="n" x="372.51" y="167.55" fill="#400800">10</text>
<rect x="375.2" y="163.6" width="5.39" height="4.4" fill="#14b414" stroke="#fff" stroke-opacity="0.6" stroke-width="1.1"/>
<text class="n" x="377.9" y="167.55" fill="#003000">10</text>
<rect x="380.6" y="163.6" width="5.39" height="4.4" fill="#dc620c" stroke="#fff" stroke-opacity="0.6" stroke-width="1.1"/>
<text class="n" x="383.3" y="167.55" fill="#400800">11</text>
<rect x="386" y="163.6" width="5.39" height="4.4" fill="#14b414" stroke="#fff" stroke-opacity="0.6" stroke-width="1.1"/>
<text class="n" x="388.69" y="167.55" fill="#003000">11</text>
<rect x="391.39" y="163.6" width="5.39" height="4.4" fill="#dc620c" stroke="#fff" stroke-opacity="0.6" stroke-width="1.1"/>
<text class="n" x="394.09" y="167.55" fill="#400800">12</text>
<rect x="396.78" y="163.6" width="5.39" height="4.4" fill="#14b414" stroke="#fff" stroke-opacity="0.6" stroke-width="1.1"/>
<text class="n" x="399.48" y="167.55" fill="#003000">12</text>
<rect x="402.18" y="163.6" width="5.39" height="4.4" fill="#dc620c" stroke="#fff" stroke-opacity="0.6" stroke-width="1.1"/>
<text class="n" x="404.88" y="167.55" fill="#400800">13</text>
<rect x="407.57" y="163.6" width="5.39" height="4.4" fill="#14b414" stroke="#fff" stroke-opacity="0.6" stroke-width="1.1"/>
<text class="n" x="410.27" y="167.55" fill="#003000">13</text>
<rect x="412.97" y="163.6" width="5.39" height="4.4" fill="#dc620c" stroke="#fff" stroke-opacity="0.6" stroke-width="1.1"/>
<text class="n" x="415.67" y="167.55" fill="#400800">14</text>
<rect x="418.37" y="163.6" width="5.39" height="4.4" fill="#14b414" stroke="#fff" stroke-opacity="0.6" stroke-width="1.1"/>
<text class="n" x="421.06" y="167.55" fill="#003000">14</text>
<rect x="423.76" y="163.6" width="5.39" height="4.4" fill="#dc620c" stroke="#fff" stroke-opacity="0.6" stroke-width="1.1"/>
<text class="n" x="426.46" y="167.55" fill="#400800">15</text>
<rect x="429.15" y="163.6" width="5.39" height="4.4" fill="#14b414" stroke="#fff" stroke-opacity="0.6" stroke-width="1.1"/>
<text class="n" x="431.85" y="167.55" fill="#003000">15</text>
<rect x="434.55" y="163.6" width="5.39" height="4.4" fill="#dc620c" stroke="#fff" stroke-opacity="0.6" stroke-width="1.1"/>
<text class="n" x="437.25" y="167.55" fill="#400800">16</text>
<rect x="439.94" y="163.6" width="5.39" height="4.4" fill="#14b414" stroke="#fff" stroke-opacity="0.6" stroke-width="1.1"/>
<text class="n" x="442.64" y="167.55" fill="#003000">16</text>
<rect x="445.34" y="163.6" width="5.39" height="4.4" fill="#dc620c" stroke="#fff" stroke-opacity="0.6" stroke-width="1.1"/>
<text class="n" x="448.04" y="167.55" fill="#400800">17</text>
<rect x="450.74" y="163.6" width="5.39" height="4.4" fill="#14b414" stroke="#fff" stroke-opacity="0.6" stroke-width="1.1"/>
<text class="n" x="453.43" y="167.55" fill="#003000">17</text>
<rect x="456.13" y="163.6" width="5.39" height="4.4" fill="#dc620c" stroke="#fff" stroke-opacity="0.6" stroke-width="1.1"/>
<text class="n" x="458.83" y="167.55" fill="#400800">18</text>
<rect x="461.52" y="163.6" width="5.39" height="4.4" fill="#14b414" stroke="#fff" stroke-opacity="0.6" stroke-width="1.1"/>
<text class="n" x="464.22" y="167.55" fill="#003000">18</text>
<rect x="466.92" y="163.6" width="5.39" height="4.4" fill="#dc620c" stroke="#fff" stroke-opacity="0.6" stroke-width="1.1"/>
<text class="n" x="469.62" y="167.55" fill="#400800">19</text>
<rect x="472.31" y="163.6" width="5.39" height="4.4" fill="#14b414" stroke="#fff" stroke-opacity="0.6" stroke-width="1.1"/>
<text class="n" x="475.01" y="167.55" fill="#003000">19</text>
<rect x="477.71" y="163.6" width="5.39" height="4.4" fill="#dc620c" stroke="#fff" stroke-opacity="0.6" stroke-width="1.1"/>
<text class="n" x="480.41" y="167.55" fill="#400800">20</text>
<rect x="483.1" y="163.6" width="5.39" height="4.4" fill="#14b414" stroke="#fff" stroke-opacity="0.6" stroke-width="1.1"/>
<text class="n" x="485.8" y="167.55" fill="#003000">20</text>
<text class="g" x="238" y="53.9">MTAP</text>
<text class="g" x="238" y="87.3">CDKN2A</text>
<rect x="237.7" y="88.4" width="29.61" height="0.6" fill="#858585"/>
<text class="g" x="238" y="95.8">CDKN2B</text>
<rect x="237.7" y="96.9" width="29.61" height="0.6" fill="#858585"/>
<text class="g" x="238" y="193">RECIK</text>
<text class="g" x="238" y="201.2">C9orf19</text>
<text class="g" x="238" y="207.8">CLTA</text>
<text class="g" x="238" y="217.2">RNF38</text>
<text class="g" x="238" y="227.8">MELK</text>
<text class="g" x="238.2" y="250.3">PAX5</text>
<rect x="237.9" y="251.4" width="18.13" height="0.6" fill="#858585"/>
<text class="g" x="238.2" y="269.4">ZCCHC7</text>
<text class="g" x="238.2" y="283.1">POLR1E</text>
<text class="g" x="238.2" y="305">EXOSC3</text>
<text class="g" x="238.2" y="315.3">SHB</text>
<text class="g" x="491.3" y="48.3">VWC2</text>
<text class="g" x="491.3" y="56.1">ZPBP</text>
<text class="g" x="491.3" y="80">IKZF1</text>
<rect x="491" y="81.1" width="19.88" height="0.6" fill="#858585"/>
<text class="g" x="491.3" y="90.7">DDC</text>
<text class="g" x="491.3" y="107.2">GRB10</text>
<text class="g" x="491.3" y="135.3">COBL</text>
<text class="g" x="490.8" y="204.9">ADAM19</text>
<text class="g" x="490.8" y="214.4">SOX30</text>
<text class="g" x="490.8" y="222.9">CLINT1</text>
<text class="g" x="491" y="262.6">EBF1</text>
<rect x="490.7" y="263.7" width="18.26" height="0.6" fill="#858585"/>
<text class="g" x="491" y="278.2">RNF145</text>
<text class="g" x="491.3" y="288.8">UBLCP1</text>
<text class="g" x="491.3" y="302.9">IL12B</text>
<text class="L" x="240.2" y="161.3">A</text>
<text class="L" x="240.6" y="330.8">B</text>
<text class="L" x="490" y="160.4">C</text>
<text class="L" x="490.6" y="329.6">D</text>
<defs><linearGradient id="rg" x1="0" x2="1" y1="0" y2="0"><stop offset="0" stop-color="#b00000"/><stop offset="1" stop-color="#ff0a0a"/></linearGradient></defs>
<text x="390.6" y="341.9" style="font-weight:bold;font-size:9px;fill:#111">Gain</text>
<rect x="412.9" y="334.7" width="36" height="8.1" fill="url(#rg)"/>
<rect x="451.7" y="334.7" width="36.7" height="8" fill="#0505e6"/>
<text x="492.5" y="341.9" style="font-weight:bold;font-size:9px;fill:#111">Loss</text>
</svg>
</body></html>
